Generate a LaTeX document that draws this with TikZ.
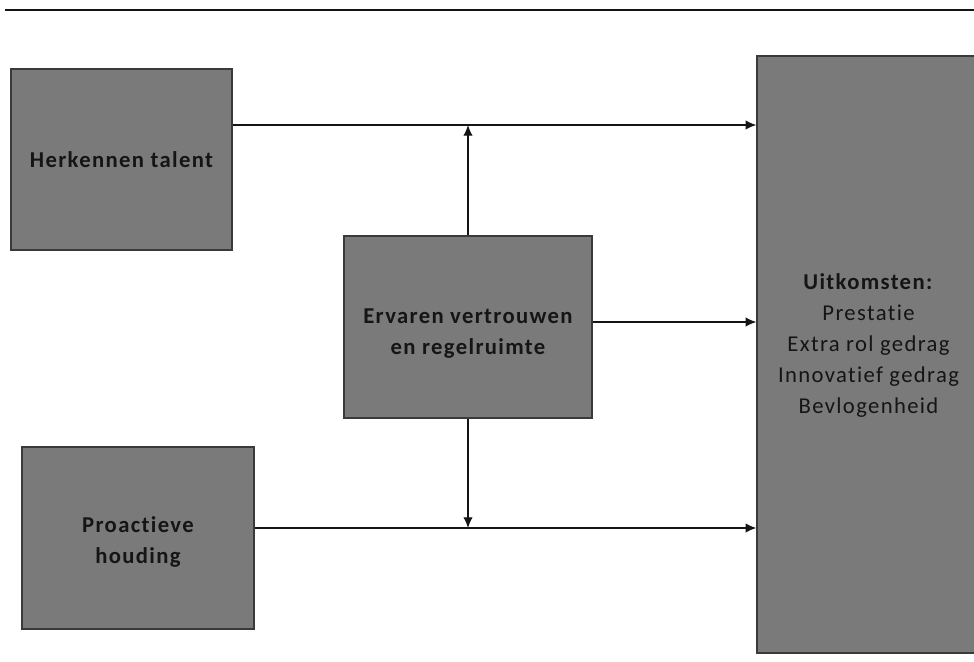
\documentclass[tikz,border=0pt]{standalone}
\usepackage{fontspec}
\setmainfont{Carlito}[LetterSpace=6,Ligatures=NoCommon]
\usetikzlibrary{arrows.meta,positioning}
\definecolor{boxgray}{HTML}{7A7A7A}
\definecolor{edge}{HTML}{3A3A3A}
\definecolor{ink}{HTML}{151515}

\begin{document}
\begin{tikzpicture}[x=0.75pt,y=-0.75pt,>={Latex[length=8pt,width=7pt]},
  blok/.style={draw=edge,line width=1pt,fill=boxgray,inner sep=0pt,align=center,
    text=ink,font=\fontsize{17}{23.25}\selectfont\bfseries},
  pijl/.style={->,line width=0.9pt,draw=ink}]
\useasboundingbox (0,0) rectangle (974,661);
\draw[line width=2.2pt,ink] (5,10) -- (974,10);
% boxes
\node[blok,minimum width=165.75pt,minimum height=135.75pt] (talent) at (121.5,159.5) {Herkennen talent};
\node[blok,minimum width=186pt,minimum height=136.5pt] (ervaren) at (468,327)
  {\raisebox{-8.75pt}[0pt][0pt]{\begin{tabular}{@{}c@{}}Ervaren vertrouwen\\en regelruimte\end{tabular}}};
\node[blok,minimum width=174pt,minimum height=136.5pt] (proactief) at (138,538)
  {\raisebox{-7.25pt}[0pt][0pt]{\begin{tabular}{@{}c@{}}Proactieve\\houding\end{tabular}}};
\node[blok,minimum width=167.25pt,minimum height=447.75pt,font=\fontsize{17}{23.25}\selectfont] (uitkomsten) at (868.5,354.5)
  {\raisebox{2.5pt}[0pt][0pt]{\begin{tabular}{@{}c@{}}\textbf{Uitkomsten:}\\Prestatie\\Extra rol gedrag\\Innovatief gedrag\\Bevlogenheid\end{tabular}}};
% levels of the connectors
\coordinate (boven) at (468,125);
\coordinate (midden) at (468,322);
\coordinate (onder) at (468,528);
\draw[pijl] (talent.east |- boven) -- (uitkomsten.west |- boven);
\draw[pijl] (ervaren.north) -- (boven);
\draw[pijl] (ervaren.east |- midden) -- (uitkomsten.west |- midden);
\draw[pijl] (ervaren.south) -- (onder);
\draw[pijl] (proactief.east |- onder) -- (uitkomsten.west |- onder);
\end{tikzpicture}
\end{document}
